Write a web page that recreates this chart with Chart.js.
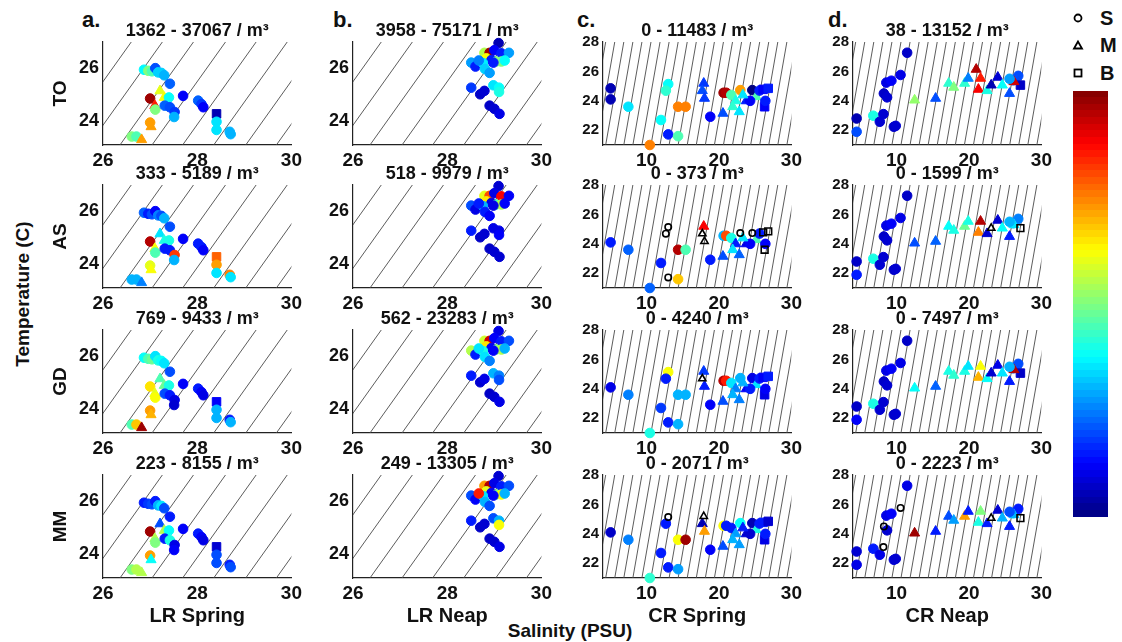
<!DOCTYPE html>
<html>
<head>
<meta charset="utf-8">
<script src="https://cdn.jsdelivr.net/npm/chart.js@4.4.0/dist/chart.umd.min.js"></script>
<style>
body { margin: 0; background: #fff; font-family: "Liberation Sans", Arial, sans-serif; }
#wrap { position: relative; width: 1122px; height: 642px; overflow: hidden; background: #fff; }
#wrap canvas { position: absolute; }
.lbl { position: absolute; font-weight: bold; color: #111; white-space: nowrap; line-height: 1; }
.rot { transform: translate(-50%, -50%) rotate(-90deg); }
.ctr { transform: translate(-50%, -50%); }
</style>
</head>
<body>
<div id="wrap">
  <div class="lbl" style="left:82px; top:9px; font-size:22px;">a.</div>
  <div class="lbl" style="left:333px; top:9px; font-size:22px;">b.</div>
  <div class="lbl" style="left:577px; top:9px; font-size:22px;">c.</div>
  <div class="lbl" style="left:828px; top:9px; font-size:22px;">d.</div>
  <div class="lbl rot" style="left:22px; top:294px; font-size:19px;">Temperature (C)</div>
  <div class="lbl ctr" style="left:570px; top:630px; font-size:19px;">Salinity (PSU)</div>

  <svg style="position:absolute; left:1070px; top:10px;" width="20" height="75">
    <circle cx="8" cy="8" r="3.5" fill="none" stroke="#000" stroke-width="1.8"/>
    <polygon points="8,31.5 4,38.5 12,38.5" fill="none" stroke="#000" stroke-width="1.8"/>
    <rect x="4.5" y="59.5" width="7" height="7" fill="none" stroke="#000" stroke-width="1.8"/>
  </svg>
  <div class="lbl" style="left:1100px; top:8px; font-size:20px;">S</div>
  <div class="lbl" style="left:1100px; top:35px; font-size:20px;">M</div>
  <div class="lbl" style="left:1100px; top:63px; font-size:20px;">B</div>
  <canvas id="colorbar" width="35" height="426" style="left:1073px; top:91px;"></canvas>
</div>
<script>
Chart.defaults.font.family = '"Liberation Sans", Arial, sans-serif';

const rowNames = ['TO', 'AS', 'GD', 'MM'];
const colNames = ['LR Spring', 'LR Neap', 'CR Spring', 'CR Neap'];

// axis ticks
const lrSalTicks = [26, 28, 30];
const lrTempTicks = [24, 26];
const crSalTicks = [10, 20, 30];
const crTempTicks = [22, 24, 26, 28];

// concentration range shown above each panel (TO, AS, GD, MM)
const lrSpringTitles = ['1362 - 37067', '333 - 5189', '769 - 9433', '223 - 8155'];
const lrNeapTitles = ['3958 - 75171', '518 - 9979', '562 - 23283', '249 - 13305'];
const crSpringTitles = ['0 - 11483', '0 - 373', '0 - 4240', '0 - 2071'];
const crNeapTitles = ['38 - 13152', '0 - 1599', '0 - 7497', '0 - 2223'];

// density contours: salinity where each line meets the lower and upper temperature
const isoLrTemp = [23.1, 27];
const isoLrSalLow = [25.04, 25.70, 26.36, 27.04, 27.69, 28.35, 29.03, 29.68];
const isoLrSalHigh = [26.60, 27.26, 27.92, 28.60, 29.25, 29.91, 30.59, 31.24];
const isoCrTemp = [21, 28];
const isoCrSalLow = [1.87, 3.12, 4.37, 5.62, 6.87, 8.12, 9.37, 10.62, 11.87, 13.12, 14.37, 15.62, 16.87, 18.12, 19.37, 20.62, 21.87, 23.12, 24.37, 25.62, 26.87, 28.12, 29.37];
const isoCrSalHigh = [4.37, 5.62, 6.87, 8.12, 9.37, 10.62, 11.87, 13.12, 14.37, 15.62, 16.87, 18.12, 19.37, 20.62, 21.87, 23.12, 24.37, 25.62, 26.87, 28.12, 29.37, 30.62, 31.87];

// LR Spring stations
const lrSpringSal = [26.87, 26.96, 27.04, 27.11, 27.17, 27.24, 27.30, 27.42, 27.21, 27.30, 27.40, 27.00, 27.10, 27.11, 27.31, 27.42, 27.52, 27.51, 27.70, 28.02, 28.09, 28.13, 28.41, 28.41, 28.41, 28.69, 28.71, 27.00, 27.02, 26.61, 26.71, 26.82];
const lrSpringTemp = [25.95, 25.91, 25.89, 26.01, 25.85, 25.83, 25.74, 25.42, 25.15, 24.90, 24.90, 24.86, 24.59, 24.44, 24.59, 24.53, 24.35, 24.16, 24.96, 24.78, 24.65, 24.53, 24.28, 23.98, 23.67, 23.60, 23.51, 23.95, 23.79, 23.42, 23.42, 23.30];
const lrSpringMark = ['c','c','c','c','c','c','c','c','t','t','c','c','t','c','c','c','c','c','c','c','c','c','s','c','c','c','c','c','t','c','c','t'];
// colour position on the jet scale (0 low .. 1 high), null = zero (open marker), -1 = no sample
const lrSpringTO = [0.37,0.5,0.45,0.2,0.33,0.33,0.3,0.22,0.6,0.62,0.38,0.97,0.85,0.5,0.22,0.2,0.18,0.3,0.12,0.22,0.18,0.12,0.05,0.35,0.35,0.3,0.3,0.72,0.72,0.5,0.45,0.72];
const lrSpringAS = [0.22,0.15,0.2,0.12,0.25,0.2,0.3,0.2,0.35,0.4,0.4,0.95,0.62,0.45,0.15,0.15,0.82,0.3,0.12,0.15,0.15,0.12,0.78,0.72,0.35,0.75,0.35,0.6,0.62,0.3,0.3,0.25];
const lrSpringGD = [0.38,0.45,0.48,0.35,0.4,0.38,0.35,0.2,0.45,0.48,0.4,0.65,0.6,0.62,0.2,0.15,0.1,0.08,0.12,0.15,0.12,0.1,0.12,0.3,0.3,0.15,0.3,0.72,0.7,0.45,0.68,0.97];
const lrSpringMM = [0.15,0.18,0.2,0.15,0.3,0.35,0.2,0.15,0.2,0.55,0.38,0.97,0.55,0.5,0.15,0.4,0.1,0.12,0.12,0.15,0.12,0.1,0.08,0.2,0.2,0.15,0.2,0.72,0.38,0.5,0.55,0.55];

// LR Neap stations
const lrNeapSal = [29.09, 28.79, 28.90, 29.00, 29.15, 29.31, 28.83, 28.94, 29.04, 29.15, 29.22, 28.51, 28.60, 28.76, 28.80, 28.90, 28.51, 28.70, 28.79, 28.98, 29.10, 29.10, 28.90, 29.00, 29.11, 28.98, 28.67];
const lrNeapTemp = [26.96, 26.59, 26.59, 26.69, 26.57, 26.59, 26.38, 26.32, 26.26, 26.26, 26.30, 26.22, 26.07, 26.20, 25.98, 25.83, 25.27, 25.02, 25.15, 25.36, 25.27, 25.11, 24.59, 24.47, 24.28, 26.22, 26.30];
const lrNeapMark = ['c','c','c','c','c','c','c','c','c','c','c','c','c','c','c','c','c','c','c','c','c','c','c','c','c','c','c'];
const lrNeapTO = [0.05,0.55,0.97,0.12,0.15,0.28,0.62,0.15,0.5,0.5,0.38,0.28,0.15,0.36,0.33,0.28,0.18,0.07,0.08,0.35,0.38,0.4,0.07,0.08,0.1,0.15,0.25];
const lrNeapAS = [0.08,0.6,0.8,0.1,0.88,0.12,0.65,0.1,0.45,0.55,0.12,0.2,0.1,0.3,0.15,0.12,0.15,0.07,0.08,0.1,0.1,0.12,0.07,0.08,0.08,0.1,0.15];
const lrNeapGD = [0.1,0.58,0.92,0.12,0.15,0.2,0.65,0.12,0.5,0.55,0.3,0.55,0.15,0.4,0.35,0.25,0.15,0.08,0.1,0.3,0.25,0.2,0.07,0.08,0.1,0.12,0.35];
const lrNeapMM = [0.08,0.72,0.95,0.1,0.15,0.2,0.6,0.12,0.5,0.62,0.3,0.2,0.12,0.35,0.3,0.2,0.15,0.07,0.08,0.2,0.3,0.62,0.07,0.08,0.1,0.12,0.85];

// CR Spring stations
const crSpringSal = [5.05, 5.05, 7.5, 13.0, 12.67, 14.36, 15.4, 12.0, 13.0, 14.36, 10.46, 18.8, 17.9, 17.7, 18.0, 20.64, 21.0, 20.55, 21.7, 22.94, 22.3, 21.9, 22.8, 23.77, 24.6, 25.14, 25.6, 26.1, 26.8, 26.3, 26.4, 24.3, 23.3];
const crSpringTemp = [24.85, 24.1, 23.6, 25.14, 24.69, 23.6, 23.6, 22.7, 21.72, 21.6, 21.0, 22.92, 25.19, 24.69, 24.17, 24.55, 24.55, 23.15, 24.4, 24.73, 24.0, 23.6, 23.26, 24.0, 24.73, 24.28, 24.7, 24.78, 24.85, 23.6, 24.0, 24.0, 24.4];
const crSpringMark = ['c','c','c','c','c','c','c','c','c','c','c','c','t','t','t','c','c','t','c','c','t','t','t','t','c','t','c','s','s','s','c','c','t'];
const crSpringTO = [0.05,0.05,0.35,0.38,0.42,0.75,0.75,0.38,0.15,0.45,0.75,0.12,0.18,0.2,0.18,0.97,0.95,0.2,0.45,0.72,0.4,0.42,0.35,0.15,0.0,0.45,0.15,0.12,0.15,0.12,0.15,0.12,0.35];
const crSpringAS = [-1,0.15,0.22,null,null,0.95,0.45,0.15,null,0.68,0.22,0.15,0.88,null,null,0.3,0.8,0.2,0.4,null,0.15,0.35,0.22,0.1,null,0.45,0.15,null,null,null,0.12,0.12,0.35];
const crSpringGD = [-1,0.1,0.25,0.62,0.15,0.3,0.3,0.18,0.15,0.3,0.4,0.12,0.18,null,0.15,0.95,0.85,0.2,0.35,0.3,0.25,0.3,0.25,0.12,0.1,0.35,0.15,0.12,0.15,0.1,0.12,0.15,0.3];
const crSpringMM = [-1,0.07,0.25,null,0.15,0.62,0.97,0.15,0.15,0.28,0.42,0.12,null,0.05,0.72,0.62,0.15,0.2,0.15,0.38,0.28,0.3,0.28,0.08,0.05,0.4,0.15,0.15,0.08,0.1,0.15,0.08,0.15];

// CR Neap stations
const crNeapSal = [4.5, 4.5, 6.8, 7.7, 8.2, 9.64, 9.9, 8.26, 8.7, 8.6, 9.3, 10.56, 11.47, 12.5, 15.4, 17.2, 17.9, 19.4, 19.9, 21.0, 21.6, 21.3, 22.5, 23.07, 23.98, 24.6, 25.6, 26.1, 26.8, 27.1, 26.2, 25.6];
const crNeapTemp = [22.8, 21.9, 22.99, 22.58, 23.1, 22.24, 22.3, 24.5, 24.24, 25.24, 25.37, 25.76, 27.27, 24.05, 24.17, 25.19, 24.92, 25.19, 25.53, 26.14, 25.53, 24.78, 24.69, 25.07, 25.6, 25.07, 24.5, 25.4, 25.7, 25.07, 25.3, 25.5];
const crNeapMark = ['c','c','c','c','c','c','c','c','c','c','c','c','c','t','t','t','t','t','t','t','t','t','t','t','t','t','t','c','c','s','t','c'];
const crNeapTO = [0.05,0.2,0.4,0.08,0.08,0.07,0.08,0.07,0.08,0.1,0.12,0.1,0.07,0.52,0.2,0.42,0.5,0.42,0.25,0.95,0.85,0.88,0.4,0.05,0.08,0.38,0.2,0.2,0.2,0.07,0.92,0.28];
const crNeapAS = [0.07,0.15,0.4,0.08,0.08,0.07,0.08,0.07,0.08,0.1,0.12,0.1,0.07,0.2,0.22,0.38,0.4,0.48,0.4,-1,0.95,0.75,0.08,null,0.08,0.38,0.15,0.3,0.25,null,0.35,0.3];
const crNeapGD = [0.07,0.12,0.4,0.08,0.08,0.07,0.08,0.07,0.08,0.1,0.12,0.1,0.07,0.38,0.22,0.4,0.42,0.4,0.35,-1,0.62,0.7,0.38,0.08,0.1,0.35,0.15,0.2,0.2,0.07,0.95,0.3];
const crNeapMM = [0.08,0.1,0.15,0.1,null,0.08,0.08,null,0.08,0.1,0.12,null,0.1,0.97,0.15,0.2,0.28,0.72,0.15,-1,0.5,0.4,0.15,null,0.08,0.3,0.15,0.35,0.15,null,0.3,0.2];

const columns = [
    { sal: lrSpringSal, temp: lrSpringTemp, mark: lrSpringMark, vals: [lrSpringTO, lrSpringAS, lrSpringGD, lrSpringMM], titles: lrSpringTitles,
      xMin: 26, xMax: 30, yMin: 23.1, yMax: 27, xTicks: lrSalTicks, yTicks: lrTempTicks, isoLow: isoLrSalLow, isoHigh: isoLrSalHigh, isoT: isoLrTemp, yFont: 18 },
    { sal: lrNeapSal, temp: lrNeapTemp, mark: lrNeapMark, vals: [lrNeapTO, lrNeapAS, lrNeapGD, lrNeapMM], titles: lrNeapTitles,
      xMin: 26, xMax: 30, yMin: 23.1, yMax: 27, xTicks: lrSalTicks, yTicks: lrTempTicks, isoLow: isoLrSalLow, isoHigh: isoLrSalHigh, isoT: isoLrTemp, yFont: 18 },
    { sal: crSpringSal, temp: crSpringTemp, mark: crSpringMark, vals: [crSpringTO, crSpringAS, crSpringGD, crSpringMM], titles: crSpringTitles,
      xMin: 4, xMax: 30, yMin: 21, yMax: 28, xTicks: crSalTicks, yTicks: crTempTicks, isoLow: isoCrSalLow, isoHigh: isoCrSalHigh, isoT: isoCrTemp, yFont: 15 },
    { sal: crNeapSal, temp: crNeapTemp, mark: crNeapMark, vals: [crNeapTO, crNeapAS, crNeapGD, crNeapMM], titles: crNeapTitles,
      xMin: 4, xMax: 30, yMin: 21, yMax: 28, xTicks: crSalTicks, yTicks: crTempTicks, isoLow: isoCrSalLow, isoHigh: isoCrSalHigh, isoT: isoCrTemp, yFont: 15 }
];

const plotLefts = [103, 353, 603, 853];
const plotTops = [42, 185, 330, 475];
const plotW = 189, plotH = 103;

const styleOf = { c: 'circle', t: 'triangle', s: 'rect' };
const filledR = { c: 4.8, t: 5.8, s: 6 };
const openR = { c: 3.2, t: 4.2, s: 4.8 };

// matlab jet colormap
function jet(v) {
    const c = x => Math.round(255 * Math.max(0, Math.min(1, x)));
    return 'rgb(' + c(1.5 - Math.abs(4 * v - 3)) + ',' + c(1.5 - Math.abs(4 * v - 2)) + ',' + c(1.5 - Math.abs(4 * v - 1)) + ')';
}

// panel title centred over the plot area (the built-in title centres on the whole canvas)
const panelTitle = {
    id: 'panelTitle',
    afterDraw(chart, args, opts) {
        const { ctx, chartArea } = chart;
        ctx.save();
        ctx.font = 'bold 18px "Liberation Sans", Arial, sans-serif';
        ctx.fillStyle = '#111';
        ctx.textAlign = 'center';
        ctx.textBaseline = 'middle';
        ctx.fillText(opts.text, (chartArea.left + chartArea.right) / 2, chartArea.top - 11);
        ctx.restore();
    }
};

function buildPanel(colIdx, rowIdx) {
    const col = columns[colIdx];
    const vals = col.vals[rowIdx];
    const left = colIdx === 0 ? 70 : 50;
    const top = 30, right = 14;
    const bottom = rowIdx === 3 ? 54 : 30;

    const canvas = document.createElement('canvas');
    canvas.width = left + plotW + right;
    canvas.height = top + plotH + bottom;
    canvas.style.left = (plotLefts[colIdx] - left) + 'px';
    canvas.style.top = (plotTops[rowIdx] - top) + 'px';
    document.getElementById('wrap').appendChild(canvas);

    const filled = [], fillColor = [], fillStyle = [], fillRadius = [];
    const open = [], openStyle = [], openRadius = [];
    vals.forEach((v, i) => {
        if (v === -1) return;
        const pt = { x: col.sal[i], y: col.temp[i] };
        const m = col.mark[i];
        if (v === null) {
            open.push(pt); openStyle.push(styleOf[m]); openRadius.push(openR[m]);
        } else {
            filled.push(pt); fillColor.push(jet(v)); fillStyle.push(styleOf[m]); fillRadius.push(filledR[m]);
        }
    });

    const datasets = [
        { data: open, pointStyle: openStyle, pointRadius: openRadius, pointBackgroundColor: 'rgba(255,255,255,0)',
          pointBorderColor: '#000', pointBorderWidth: 1.6, showLine: false, clip: false, order: 0 },
        { data: filled, pointStyle: fillStyle, pointRadius: fillRadius, pointBackgroundColor: fillColor,
          pointBorderColor: fillColor, pointBorderWidth: 1, showLine: false, clip: false, order: 1 }
    ];
    // density contour lines
    col.isoLow.forEach((s0, k) => {
        datasets.push({
            data: [{ x: s0, y: col.isoT[0] }, { x: col.isoHigh[k], y: col.isoT[1] }],
            showLine: true, borderColor: '#4a4a4a', borderWidth: 0.9, pointRadius: 0, order: 2
        });
    });

    new Chart(canvas, {
        type: 'scatter',
        data: { datasets: datasets },
        plugins: [panelTitle],
        options: {
            responsive: false,
            animation: false,
            devicePixelRatio: 1,
            events: [],
            layout: { padding: { left: 0, right: right, top: top, bottom: 0 } },
            plugins: {
                legend: { display: false },
                tooltip: { enabled: false },
                title: { display: false },
                panelTitle: { text: col.titles[rowIdx] + ' / m³' }
            },
            scales: {
                x: {
                    type: 'linear', min: col.xMin, max: col.xMax,
                    afterBuildTicks: s => { s.ticks = col.xTicks.map(v => ({ value: v })); },
                    afterFit: s => { s.height = bottom; },
                    grid: { display: false, drawTicks: false },
                    border: { display: true, color: '#222', width: 1.2 },
                    ticks: { color: '#111', font: { size: 19, weight: 'bold' }, padding: 4, maxRotation: 0, autoSkip: false },
                    title: { display: rowIdx === 3, text: colNames[colIdx], color: '#111',
                             font: { size: 20, weight: 'bold' }, padding: { top: 0, bottom: 4 } }
                },
                y: {
                    type: 'linear', min: col.yMin, max: col.yMax,
                    afterBuildTicks: s => { s.ticks = col.yTicks.map(v => ({ value: v })); },
                    afterFit: s => { s.width = left; },
                    grid: { display: false, drawTicks: false },
                    border: { display: true, color: '#222', width: 1.2 },
                    ticks: { color: '#111', font: { size: col.yFont, weight: 'bold' }, padding: 4, autoSkip: false },
                    title: { display: colIdx === 0, text: rowNames[rowIdx], color: '#111',
                             font: { size: 19, weight: 'bold' }, padding: { top: 16, bottom: 0 } }
                }
            }
        }
    });
}

for (let c = 0; c < 4; c++) {
    for (let r = 0; r < 4; r++) buildPanel(c, r);
}

// colour bar, 64 bands like the matlab jet map
const cb = document.getElementById('colorbar').getContext('2d');
const bands = 64, cbH = 426;
for (let i = 0; i < bands; i++) {
    const v = 1 - (i + 0.5) / bands;
    cb.fillStyle = jet(v);
    const y0 = Math.floor(i * cbH / bands), y1 = Math.floor((i + 1) * cbH / bands);
    cb.fillRect(0, y0, 35, y1 - y0);
}
</script>
</body>
</html>
